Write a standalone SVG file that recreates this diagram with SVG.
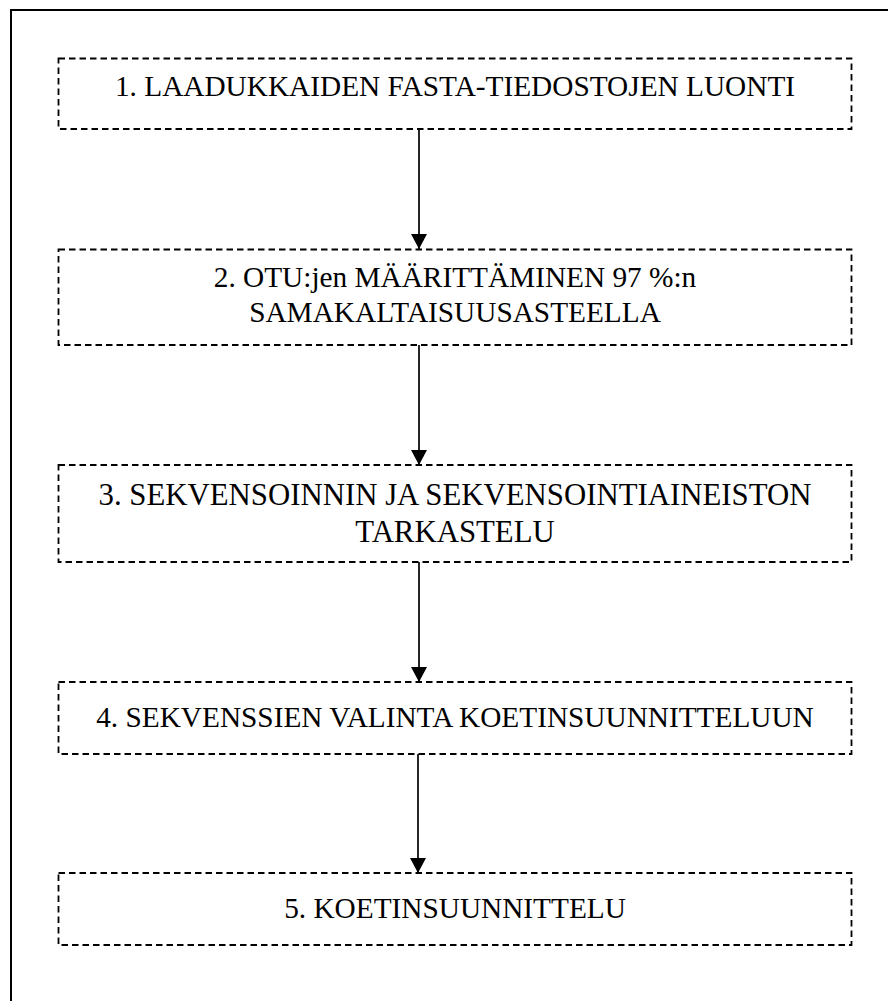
<svg xmlns="http://www.w3.org/2000/svg" width="888" height="1001" viewBox="0 0 888 1001">
<style>
.box{fill:none;stroke:#000;stroke-width:1.8;stroke-dasharray:6.5 4}
.lbl{font-family:'Liberation Serif',serif;font-size:29.3px;fill:#000;text-anchor:middle}
.big{font-size:30.8px}
.conn{stroke:#000;stroke-width:1.7;fill:none}
</style>
<defs>
<marker id="ah" markerWidth="15" markerHeight="16" refX="15" refY="8" orient="auto" markerUnits="userSpaceOnUse">
<path d="M0,0 L15,8 L0,16 Z" fill="#000"/>
</marker>
</defs>
<rect x="0" y="0" width="888" height="1001" fill="#fff"/>
<rect x="11" y="10" width="900" height="1010" fill="none" stroke="#000" stroke-width="2"/>
<g id="connectors">
<line class="conn" x1="419" y1="129" x2="419" y2="249" marker-end="url(#ah)"/>
<line class="conn" x1="419" y1="345" x2="419" y2="465" marker-end="url(#ah)"/>
<line class="conn" x1="419" y1="562" x2="419" y2="682" marker-end="url(#ah)"/>
<line class="conn" x1="418" y1="754" x2="418" y2="873" marker-end="url(#ah)"/>
</g>
<g id="node1">
<rect class="box" x="58.5" y="58.5" width="793" height="70.5"/>
<text class="lbl" x="455" y="96" font-family="Liberation Serif">1. LAADUKKAIDEN FASTA-TIEDOSTOJEN LUONTI</text>
</g>
<g id="node2">
<rect class="box" x="58.5" y="249.5" width="793" height="95.5"/>
<text class="lbl" x="455" y="287">2. OTU:jen MÄÄRITTÄMINEN 97 %:n</text>
<text class="lbl" x="455" y="322">SAMAKALTAISUUSASTEELLA</text>
</g>
<g id="node3">
<rect class="box" x="58.5" y="465" width="793" height="97"/>
<text class="lbl big" x="455" y="505">3. SEKVENSOINNIN JA SEKVENSOINTIAINEISTON</text>
<text class="lbl big" x="455" y="542">TARKASTELU</text>
</g>
<g id="node4">
<rect class="box" x="58.5" y="682" width="793" height="72"/>
<text class="lbl" x="455" y="727">4. SEKVENSSIEN VALINTA KOETINSUUNNITTELUUN</text>
</g>
<g id="node5">
<rect class="box" x="58.5" y="873" width="793" height="72"/>
<text class="lbl" x="455" y="918">5. KOETINSUUNNITTELU</text>
</g>
</svg>
